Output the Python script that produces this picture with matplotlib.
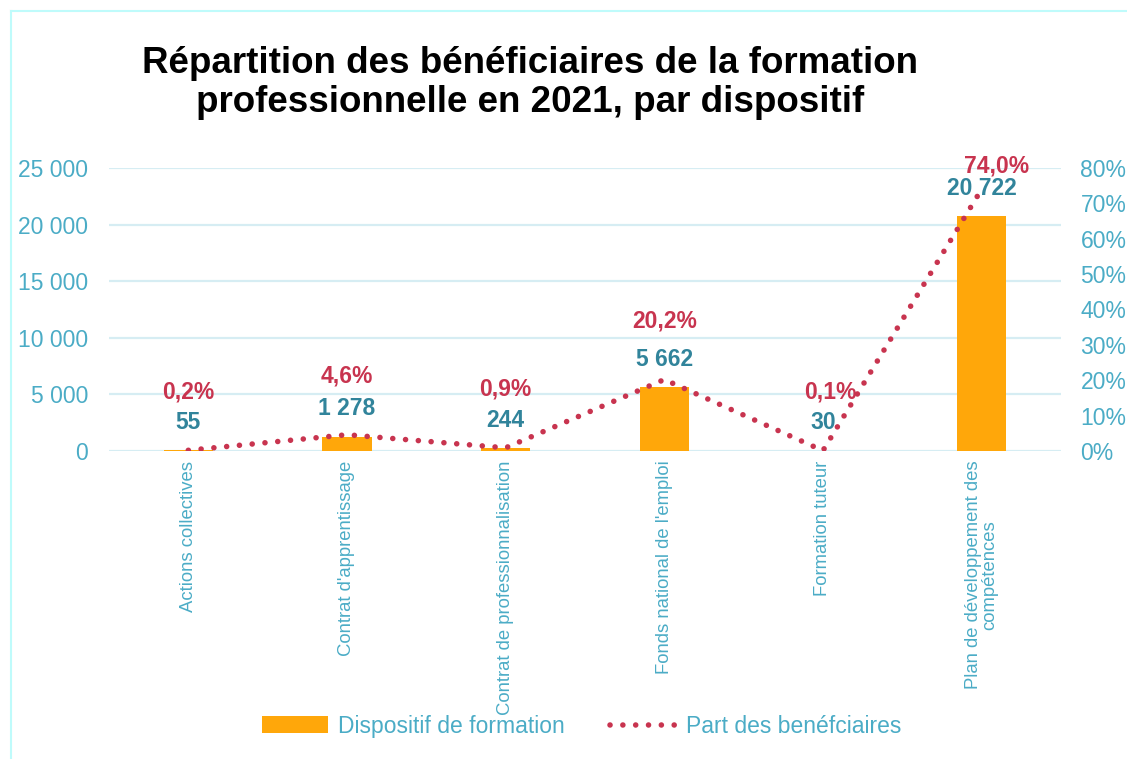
#!/usr/bin/env python3
"""Bar + dotted line chart: beneficiaries of vocational training in 2021."""
import matplotlib
matplotlib.use("Agg")
import matplotlib.pyplot as plt
from matplotlib.lines import Line2D
from matplotlib.patches import Patch
from matplotlib.ticker import FuncFormatter

# ---------------------------------------------------------------------------
# Data
# ---------------------------------------------------------------------------
categories = [
    "Actions collectives",
    "Contrat d'apprentissage",
    "Contrat de professionnalisation",
    "Fonds national de l'emploi",
    "Formation tuteur",
    "Plan de développement des\ncompétences",
]
beneficiaires = [55, 1278, 244, 5662, 30, 20722]
part = [0.2, 4.6, 0.9, 20.2, 0.1, 74.0]          # %
left_ticks = [0, 5000, 10000, 15000, 20000, 25000]
right_ticks = [0, 10, 20, 30, 40, 50, 60, 70, 80]

title = "Répartition des bénéficiaires de la formation\nprofessionnelle en 2021, par dispositif"
bar_label = "Dispositif de formation"
line_label = "Part des benéfciaires"

# colours
BAR = "#FFA70A"
LINE = "#C8344F"
VAL = "#31849B"
TICK = "#4BACC6"
GRID = "#D6EDF3"
FRAME = "#BFFBFB"

DOTS = (0, (0.01, 2.3))

plt.rcParams["font.family"] = ["Liberation Sans", "DejaVu Sans"]


def fr_thousands(v):
    return f"{int(round(v)):,}".replace(",", " ")


fig = plt.figure(figsize=(11.27, 7.59), dpi=100)
ax = fig.add_axes([0.0967, 0.4058, 0.8447, 0.3729])
ax2 = ax.twinx()

x = range(len(categories))
ax.bar(x, beneficiaires, width=0.31, color=BAR, zorder=2)
ax.set_xlim(-0.5, len(categories) - 0.5)
ax.set_ylim(0, 25000)
ax.set_yticks(left_ticks)
ax.yaxis.set_major_formatter(FuncFormatter(lambda v, _: fr_thousands(v)))
ax.grid(axis="y", color=GRID, linewidth=1.6, zorder=0)
ax.set_axisbelow(True)
for sp in ax.spines.values():
    sp.set_visible(False)
for sp in ax2.spines.values():
    sp.set_visible(False)
ax.tick_params(axis="y", length=0, labelsize=16.5, labelcolor=TICK, pad=15)
ax.tick_params(axis="x", length=0, pad=7)
ax.set_xticks(list(x))
ax.set_xticklabels(categories, rotation=90, va="top", ha="center",
                   fontsize=13.3, color=TICK, linespacing=1.0)

ax2.plot(list(x), part, linestyle=DOTS, dash_capstyle="round",
         color=LINE, linewidth=4, zorder=3)
ax2.set_ylim(0, 80)
ax2.set_yticks(right_ticks)
ax2.yaxis.set_major_formatter(FuncFormatter(lambda v, _: f"{int(v)}%"))
ax2.tick_params(axis="y", length=0, labelsize=16.5, labelcolor=TICK, pad=14)

# data labels
for i, (b, p) in enumerate(zip(beneficiaires, part)):
    ax.annotate(fr_thousands(b), (i, b), xytext=(0, 20), textcoords="offset points",
                ha="center", va="center", fontsize=16.5, fontweight="bold", color=VAL)
    dy = 17 if p > 50 else 42
    dx = 11 if p > 50 else (5 if p < 0.15 else 0)
    ax2.annotate(f"{p:.1f}%".replace(".", ","), (i, p), xytext=(dx, dy),
                 textcoords="offset points", ha="center", va="center",
                 fontsize=16.5, fontweight="bold", color=LINE)

fig.text(0.47, 0.891, title, ha="center", va="center", fontsize=26.5,
         fontweight="bold", color="black", linespacing=1.15)

handles = [
    Patch(facecolor=BAR, edgecolor="none"),
    Line2D([0], [0], color=LINE, linewidth=4, linestyle=DOTS,
           dash_capstyle="round"),
]
leg = fig.legend(handles, [bar_label, line_label], loc="center",
                 bbox_to_anchor=(0.516, 0.043), ncol=2, frameon=False,
                 prop={"size": 16.5},
                 handlelength=2.9, handleheight=0.75,
                 columnspacing=2.0, handletextpad=0.4)
for t in leg.get_texts():
    t.set_color(TICK)

# light frame on left and top
fig.add_artist(Line2D([11 / 1127, 11 / 1127], [0, 1 - 11 / 759],
                      transform=fig.transFigure, color=FRAME, linewidth=1.5))
fig.add_artist(Line2D([11 / 1127, 1], [1 - 11 / 759, 1 - 11 / 759],
                      transform=fig.transFigure, color=FRAME, linewidth=1.5))

fig.savefig("out.png", dpi=100, facecolor="white")
